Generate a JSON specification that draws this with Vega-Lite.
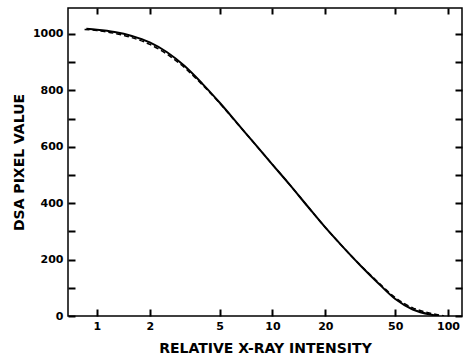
{
  "$schema": "https://vega.github.io/schema/vega-lite/v6.json",
  "width": 394,
  "height": 308,
  "autosize": {"type": "none"},
  "padding": {"left": 68, "top": 8, "right": 3, "bottom": 47},
  "background": "white",
  "config": {
    "view": {"stroke": "black", "strokeWidth": 1.5},
    "axis": {"domain": false, "tickColor": "black", "labelColor": "black", "titleColor": "black", "grid": false, "labelFont": "DejaVu Sans", "titleFont": "DejaVu Sans", "labelFontWeight": "bold", "titleFontWeight": "bold", "tickWidth": 2}
  },
  "data": {"values": [
    {"x": 0.87, "y": 1018, "s": "solid"},
    {"x": 1.0, "y": 1015, "s": "solid"},
    {"x": 1.26, "y": 1007, "s": "solid"},
    {"x": 1.58, "y": 993, "s": "solid"},
    {"x": 2.0, "y": 970, "s": "solid"},
    {"x": 2.51, "y": 935, "s": "solid"},
    {"x": 3.16, "y": 886, "s": "solid"},
    {"x": 3.98, "y": 824, "s": "solid"},
    {"x": 5.01, "y": 756, "s": "solid"},
    {"x": 6.31, "y": 683, "s": "solid"},
    {"x": 7.94, "y": 610, "s": "solid"},
    {"x": 10, "y": 537, "s": "solid"},
    {"x": 12.6, "y": 464, "s": "solid"},
    {"x": 15.8, "y": 390, "s": "solid"},
    {"x": 20, "y": 314, "s": "solid"},
    {"x": 25.1, "y": 246, "s": "solid"},
    {"x": 31.6, "y": 180, "s": "solid"},
    {"x": 39.8, "y": 118, "s": "solid"},
    {"x": 50.1, "y": 60, "s": "solid"},
    {"x": 63, "y": 23, "s": "solid"},
    {"x": 79.4, "y": 5, "s": "solid"},
    {"x": 89, "y": 0, "s": "solid"},
    {"x": 0.85, "y": 1016, "s": "dashed"},
    {"x": 1.0, "y": 1012, "s": "dashed"},
    {"x": 1.26, "y": 1002, "s": "dashed"},
    {"x": 1.58, "y": 987, "s": "dashed"},
    {"x": 2.0, "y": 963, "s": "dashed"},
    {"x": 2.51, "y": 928, "s": "dashed"},
    {"x": 3.16, "y": 880, "s": "dashed"},
    {"x": 3.98, "y": 820, "s": "dashed"},
    {"x": 5.01, "y": 754, "s": "dashed"},
    {"x": 6.31, "y": 682, "s": "dashed"},
    {"x": 7.94, "y": 610, "s": "dashed"},
    {"x": 10, "y": 537, "s": "dashed"},
    {"x": 12.6, "y": 464, "s": "dashed"},
    {"x": 15.8, "y": 390, "s": "dashed"},
    {"x": 20, "y": 314, "s": "dashed"},
    {"x": 25.1, "y": 246, "s": "dashed"},
    {"x": 31.6, "y": 181, "s": "dashed"},
    {"x": 39.8, "y": 121, "s": "dashed"},
    {"x": 50.1, "y": 65, "s": "dashed"},
    {"x": 63, "y": 29, "s": "dashed"},
    {"x": 79.4, "y": 10, "s": "dashed"},
    {"x": 95, "y": 0, "s": "dashed"}
  ]},
  "layer": [
    {
      "transform": [{"filter": "datum.s == 'solid'"}],
      "mark": {"type": "line", "color": "black", "strokeWidth": 2, "interpolate": "monotone", "clip": true},
      "encoding": {
        "x": {"field": "x", "type": "quantitative", "scale": {"type": "log", "domain": [0.684, 120.2], "nice": false},
          "axis": {"orient": "bottom", "values": [1, 2, 5, 10, 20, 50, 100], "tickSize": 7, "offset": -7, "labelPadding": 4, "labelFontSize": 11, "title": "RELATIVE X-RAY INTENSITY", "titleFontSize": 14, "titlePadding": 10, "labelFlush": false}},
        "y": {"field": "y", "type": "quantitative", "scale": {"domain": [0, 1092], "nice": false, "zero": true},
          "axis": {"orient": "left", "values": [0, 100, 200, 300, 400, 500, 600, 700, 800, 900, 1000], "labelExpr": "datum.value % 200 == 0 ? datum.label : ''", "format": "d", "tickSize": 7, "offset": -7, "labelPadding": 5, "labelFontSize": 11, "title": "DSA PIXEL VALUE", "titleFontSize": 14, "titlePadding": 6, "labelFlush": false}}
      }
    },
    {
      "transform": [{"filter": "datum.s == 'dashed'"}],
      "mark": {"type": "line", "color": "black", "strokeWidth": 1.5, "strokeDash": [5, 3], "interpolate": "monotone", "clip": true},
      "encoding": {
        "x": {"field": "x", "type": "quantitative", "scale": {"type": "log", "domain": [0.684, 120.2], "nice": false},
          "axis": {"orient": "top", "values": [1, 2, 5, 10, 20, 50, 100], "tickSize": 6, "offset": -6, "labels": false, "title": null}},
        "y": {"field": "y", "type": "quantitative", "scale": {"domain": [0, 1092], "nice": false, "zero": true},
          "axis": {"orient": "right", "values": [0, 100, 200, 300, 400, 500, 600, 700, 800, 900, 1000], "tickSize": 7, "offset": -7, "labels": false, "title": null}}
      }
    }
  ],
  "resolve": {"axis": {"x": "independent", "y": "independent"}}
}
